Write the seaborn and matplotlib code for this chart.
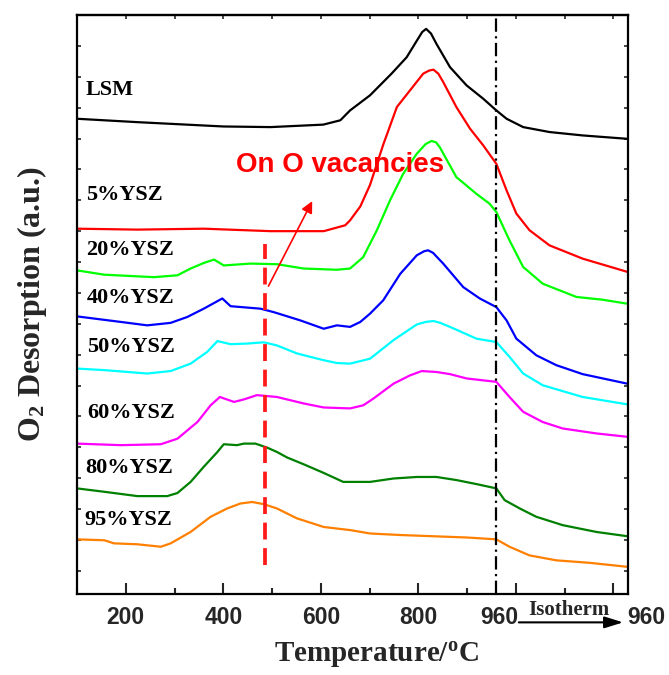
import matplotlib
matplotlib.use("Agg")
import matplotlib.pyplot as plt
import matplotlib.transforms as mtransforms
from matplotlib.ticker import MultipleLocator, FixedLocator
import numpy as np
import pandas as pd
import seaborn as sns

# ---- O2-TPD profiles (temperature in program units, signal offset per sample) ----
t_lsm = [100, 224, 400, 497, 605, 640, 660, 701, 745, 776, 797, 808, 816, 826, 837, 865, 899, 933, 960, 981, 1015, 1069, 1137, 1229]
s_lsm = [14.64, 14.53, 14.39, 14.37, 14.45, 14.59, 14.91, 15.40, 16.10, 16.63, 17.17, 17.45, 17.55, 17.40, 17.07, 16.31, 15.72, 15.29, 14.91, 14.64, 14.37, 14.21, 14.10, 13.99]

t_5 = [100, 224, 360, 497, 606, 650, 660, 681, 701, 728, 756, 783, 810, 822, 831, 841, 851, 878, 906, 933, 960, 981, 1001, 1028, 1069, 1137, 1229]
s_5 = [11.08, 11.05, 11.08, 11.00, 11.00, 11.19, 11.35, 11.80, 12.50, 13.80, 15.02, 15.56, 16.10, 16.20, 16.23, 16.10, 15.83, 15.02, 14.32, 13.78, 13.18, 12.32, 11.57, 11.03, 10.54, 10.11, 9.68]

t_20 = [100, 156, 258, 306, 333, 360, 381, 401, 456, 510, 565, 633, 660, 687, 715, 742, 769, 797, 815, 827, 836, 844, 878, 919, 946, 960, 987, 1015, 1055, 1124, 1178, 1229]
s_20 = [9.73, 9.59, 9.51, 9.57, 9.79, 9.97, 10.08, 9.89, 9.95, 9.93, 9.79, 9.75, 9.79, 10.16, 11.03, 12.00, 12.86, 13.51, 13.82, 13.92, 13.88, 13.72, 12.75, 12.21, 11.89, 11.62, 10.70, 9.84, 9.30, 8.87, 8.78, 8.65]

t_40 = [100, 190, 244, 292, 326, 360, 398, 415, 476, 503, 558, 606, 633, 660, 681, 701, 728, 763, 797, 812, 820, 830, 851, 892, 926, 960, 981, 1001, 1042, 1083, 1137, 1229]
s_40 = [8.24, 8.06, 7.95, 8.03, 8.22, 8.49, 8.82, 8.57, 8.49, 8.38, 8.11, 7.84, 7.95, 7.90, 8.06, 8.33, 8.76, 9.62, 10.22, 10.35, 10.38, 10.30, 9.95, 9.19, 8.82, 8.54, 8.11, 7.52, 6.98, 6.66, 6.37, 6.06]

t_50 = [100, 156, 244, 292, 333, 367, 388, 415, 449, 483, 510, 551, 606, 633, 660, 701, 749, 797, 815, 831, 845, 865, 919, 960, 987, 1015, 1055, 1137, 1229]
s_50 = [6.55, 6.50, 6.39, 6.47, 6.71, 7.09, 7.44, 7.34, 7.36, 7.40, 7.30, 7.04, 6.82, 6.73, 6.71, 6.87, 7.47, 7.98, 8.06, 8.09, 8.03, 7.90, 7.52, 7.41, 6.93, 6.39, 6.01, 5.63, 5.39]

t_60 = [100, 190, 272, 306, 347, 374, 393, 422, 442, 469, 510, 565, 606, 660, 687, 708, 749, 783, 807, 837, 865, 899, 960, 987, 1015, 1055, 1096, 1165, 1229]
s_60 = [4.12, 4.07, 4.10, 4.28, 4.82, 5.36, 5.63, 5.47, 5.55, 5.69, 5.63, 5.42, 5.29, 5.26, 5.36, 5.58, 6.06, 6.33, 6.47, 6.44, 6.37, 6.23, 6.12, 5.63, 5.15, 4.82, 4.61, 4.45, 4.34]

t_80 = [100, 156, 224, 285, 306, 333, 360, 388, 401, 428, 442, 466, 490, 510, 531, 565, 606, 646, 701, 749, 797, 837, 878, 919, 960, 977, 1008, 1042, 1096, 1165, 1229]
s_80 = [2.67, 2.56, 2.42, 2.42, 2.52, 2.88, 3.37, 3.85, 4.10, 4.07, 4.12, 4.12, 3.99, 3.85, 3.67, 3.45, 3.17, 2.88, 2.88, 2.99, 3.04, 3.04, 2.94, 2.81, 2.67, 2.29, 2.02, 1.75, 1.48, 1.26, 1.12]

t_95 = [100, 156, 176, 224, 272, 292, 333, 374, 408, 435, 459, 483, 510, 551, 606, 660, 701, 763, 831, 899, 960, 987, 1028, 1083, 1151, 1229]
s_95 = [1.02, 0.99, 0.89, 0.86, 0.78, 0.89, 1.26, 1.75, 2.02, 2.18, 2.23, 2.16, 2.02, 1.70, 1.42, 1.32, 1.21, 1.16, 1.12, 1.08, 1.02, 0.78, 0.50, 0.34, 0.26, 0.13]

samples = ["LSM", "5%YSZ", "20%YSZ", "40%YSZ", "50%YSZ", "60%YSZ", "80%YSZ", "95%YSZ"]
temps = [t_lsm, t_5, t_20, t_40, t_50, t_60, t_80, t_95]
signals = [s_lsm, s_5, s_20, s_40, s_50, s_60, s_80, s_95]
colors = ["#000000", "#ff0000", "#00ff00", "#0000ff", "#00ffff", "#ff00ff", "#008000", "#ff8000"]
label_x = [118, 118, 118, 120, 120, 120, 116, 116]
label_y = [15.56, 12.16, 10.38, 8.83, 7.25, 5.10, 3.32, 1.64]

tick_pos = [200, 400, 600, 800, 1000, 1200]
tick_text = ["200", "400", "600", "800", "", ""]

df = pd.concat(
    [pd.DataFrame({"temp": t, "signal": s, "sample": name})
     for name, t, s in zip(samples, temps, signals)],
    ignore_index=True,
)

sns.set_style("ticks")
plt.rcParams["font.family"] = ["Liberation Serif", "DejaVu Serif"]
plt.rcParams["mathtext.fontset"] = "custom"
plt.rcParams["mathtext.rm"] = "Liberation Serif:bold"
plt.rcParams["mathtext.bf"] = "Liberation Serif:bold"
plt.rcParams["mathtext.it"] = "Liberation Serif:bold"

fig = plt.figure(figsize=(6.69, 6.75), dpi=100)
ax = fig.add_axes([77 / 669, 81 / 675, 551 / 669, 579 / 675])

sns.lineplot(data=df, x="temp", y="signal", hue="sample", hue_order=samples,
             palette=colors, sort=False, estimator=None, legend=False,
             linewidth=1.6, ax=ax)

ax.set_xlim(100, 1230)
ax.set_ylim(-0.75, 18.0)

# end of the temperature ramp / start of the isothermal hold
ax.axvline(960, color="black", lw=1.6, ls=(0, (6, 2, 1, 2)), zorder=5)

# red marker line and arrow pointing to the vacancy-related peak
ax.plot([485, 485], [0.18, 10.6], color="#ff1a1a", lw=2.7, ls=(0, (4.5, 2.3)), zorder=6)
ax.annotate("", xy=(585, 12.05), xytext=(490, 9.14),
            arrowprops=dict(arrowstyle="-|>", color="#ff0000", lw=1.2, mutation_scale=17),
            zorder=6)
ax.text(427, 13.13, "On O vacancies", color="#ff0000", fontsize=20,
        fontfamily="Liberation Sans", fontweight="bold", va="center", ha="left")

for name, lx, ly in zip(samples, label_x, label_y):
    ax.text(lx, ly, name, fontsize=16, fontweight="bold", va="center", ha="left",
            color="black")

# ticks
ax.xaxis.set_major_locator(FixedLocator(tick_pos))
ax.set_xticklabels(tick_text)
ax.xaxis.set_minor_locator(MultipleLocator(100))
ax.tick_params(axis="x", which="major", direction="in", length=8, width=1.5, pad=9,
               labelsize=16.5, bottom=True, top=False)
ax.tick_params(axis="x", which="minor", direction="in", length=4.5, width=1.5,
               bottom=True, top=False)
for lab in ax.get_xticklabels():
    lab.set_fontfamily("Liberation Sans")
    lab.set_fontweight("bold")

ax.yaxis.set_major_locator(MultipleLocator(1))
ax.tick_params(axis="y", which="major", direction="in", length=3, width=1.2,
               left=True, right=True, labelleft=False)

secx = ax.secondary_xaxis("top")
secx.set_xticks(list(range(100, 1300, 100)))
secx.set_xticklabels([])
secx.tick_params(direction="in", length=3, width=1.2)

for sp in ax.spines.values():
    sp.set_linewidth(1.6)
    sp.set_color("black")
for sp in secx.spines.values():
    sp.set_linewidth(1.6)

# extra temperature annotations below the axis
trans = mtransforms.blended_transform_factory(ax.transData, ax.transAxes)
for xpos in (966, 1267):
    ax.text(xpos, -0.04, "960", transform=trans, fontsize=16.5,
            fontfamily="Liberation Sans", fontweight="bold",
            ha="center", va="center", clip_on=False)
ax.text(1108, -0.027, "Isotherm", transform=trans, fontsize=15, fontweight="bold",
        ha="center", va="center", clip_on=False)
ax.annotate("", xy=(1220, -0.049), xytext=(1006, -0.049),
            xycoords=trans, textcoords=trans,
            arrowprops=dict(arrowstyle="-|>,head_length=0.8,head_width=0.25",
                            color="black", lw=1.5, mutation_scale=14, shrinkA=0, shrinkB=0),
            annotation_clip=False)

ax.set_xlabel(r"Temperature/$^{\mathbf{o}}$C", fontsize=21, fontweight="bold")
ax.xaxis.set_label_coords(0.544, -0.106)
ax.xaxis.label.set_va("center")
ax.set_ylabel(r"O$_{\mathbf{2}}$ Desorption (a.u.)", fontsize=23, fontweight="bold")
ax.yaxis.set_label_coords(-0.082, 0.50)
ax.yaxis.label.set_va("center")

fig.savefig("out.png", dpi=100, facecolor="white")
